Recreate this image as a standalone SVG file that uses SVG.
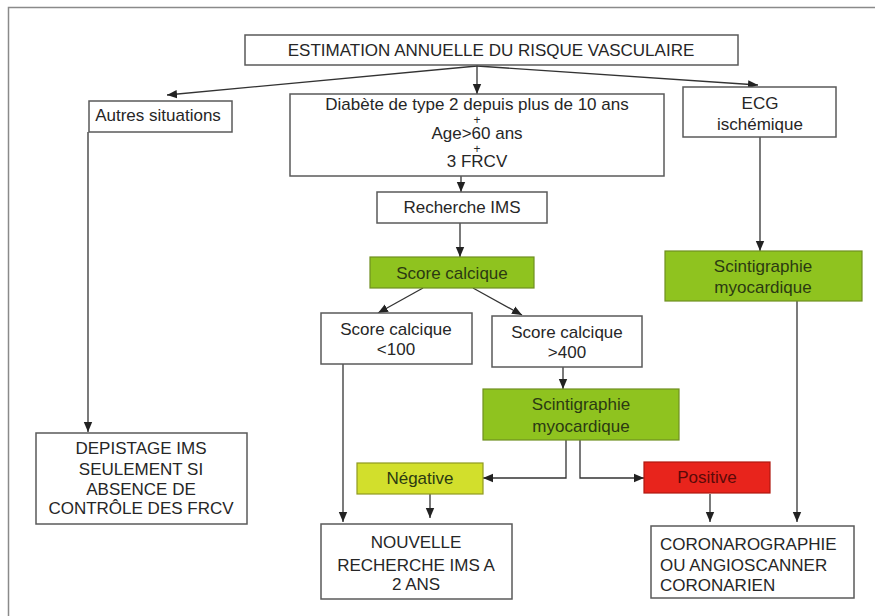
<svg xmlns="http://www.w3.org/2000/svg" width="875" height="616" viewBox="0 0 875 616">
<defs>
<style>
.box{fill:#fff;stroke:#5a5a5a;stroke-width:1.5}
.green{fill:#8fc31f;stroke:#6f8f20;stroke-width:1.2}
.neg{fill:#d2df2c;stroke:#8f9a20;stroke-width:1.2}
.pos{fill:#e8241c;stroke:#b01810;stroke-width:1.2}
text{font-family:"Liberation Sans",Arial,sans-serif;font-size:17px;fill:#262626;text-anchor:middle}
.dk{fill:#2b3a12}
.pt{fill:#5a0a08}
.plus{font-size:12px}
.lt{text-anchor:start}
.c{fill:none;stroke:#333;stroke-width:1.3}
</style>
<marker id="ah" markerUnits="userSpaceOnUse" markerWidth="10" markerHeight="10" viewBox="0 0 10 10" refX="10" refY="5" orient="auto">
<path d="M0,0.8 L10,5 L0,9.2 z" fill="#222"/>
</marker>
</defs>
<rect width="875" height="616" fill="#fff"/>
<path d="M8.5,616 V7.5 H875" fill="none" stroke="#8a8a8a" stroke-width="1.5"/>

<g id="connectors">
<path class="c" d="M477,66 L167,95" marker-end="url(#ah)"/>
<path class="c" d="M477,65 V94" marker-end="url(#ah)"/>
<path class="c" d="M477,66 L758,85" marker-end="url(#ah)"/>
<path class="c" d="M461,176 V192" marker-end="url(#ah)"/>
<path class="c" d="M460,223 V257" marker-end="url(#ah)"/>
<path class="c" d="M423,288 L378,313" marker-end="url(#ah)"/>
<path class="c" d="M473,288 L522,315" marker-end="url(#ah)"/>
<path class="c" d="M563,367 V389" marker-end="url(#ah)"/>
<path class="c" d="M88,132 V432" marker-end="url(#ah)"/>
<path class="c" d="M343,364 V522" marker-end="url(#ah)"/>
<path class="c" d="M566,440 V478 H483" marker-end="url(#ah)"/>
<path class="c" d="M580,440 V478 H644" marker-end="url(#ah)"/>
<path class="c" d="M430,494 V518" marker-end="url(#ah)"/>
<path class="c" d="M710,494 V522" marker-end="url(#ah)"/>
<path class="c" d="M760,137 V251" marker-end="url(#ah)"/>
<path class="c" d="M797,301 V522" marker-end="url(#ah)"/>
</g>

<g id="estimation">
<rect class="box" x="245" y="35" width="493" height="30"/>
<text x="491" y="56">ESTIMATION ANNUELLE DU RISQUE VASCULAIRE</text>
</g>
<g id="autres">
<rect class="box" x="89" y="101" width="143" height="31"/>
<text x="158" y="121">Autres situations</text>
</g>
<g id="diabete">
<rect class="box" x="290" y="94" width="374" height="82"/>
<text x="477" y="110">Diabète de type 2 depuis plus de 10 ans</text>
<text class="plus" x="477" y="124">+</text>
<text x="477" y="139">Age&gt;60 ans</text>
<text class="plus" x="477" y="153">+</text>
<text x="477" y="167">3 FRCV</text>
</g>
<g id="ecg">
<rect class="box" x="683" y="87" width="153" height="50"/>
<text x="760" y="109">ECG</text>
<text x="760" y="130">ischémique</text>
</g>
<g id="recherche">
<rect class="box" x="377" y="192" width="170" height="31"/>
<text x="462" y="213">Recherche IMS</text>
</g>
<g id="score">
<rect class="green" x="370" y="257" width="164" height="31"/>
<text class="dk" x="452" y="279">Score calcique</text>
</g>
<g id="scinti-right">
<rect class="green" x="665" y="251" width="197" height="50"/>
<text class="dk" x="763" y="272">Scintigraphie</text>
<text class="dk" x="763" y="293">myocardique</text>
</g>
<g id="score-low">
<rect class="box" x="321" y="313" width="151" height="51"/>
<text x="396" y="335">Score calcique</text>
<text x="396" y="355">&lt;100</text>
</g>
<g id="score-high">
<rect class="box" x="492" y="316" width="150" height="51"/>
<text x="567" y="338">Score calcique</text>
<text x="567" y="358">&gt;400</text>
</g>
<g id="scinti-mid">
<rect class="green" x="483" y="389" width="196" height="51"/>
<text class="dk" x="581" y="410">Scintigraphie</text>
<text class="dk" x="581" y="432">myocardique</text>
</g>
<g id="negative">
<rect class="neg" x="357" y="463" width="126" height="31"/>
<text class="dk" x="420" y="484">Négative</text>
</g>
<g id="positive">
<rect class="pos" x="644" y="462" width="126" height="31"/>
<text class="pt" x="707" y="483">Positive</text>
</g>
<g id="depistage">
<rect class="box" x="36" y="433" width="211" height="91"/>
<text x="141" y="454">DEPISTAGE IMS</text>
<text x="141" y="475">SEULEMENT SI</text>
<text x="141" y="495">ABSENCE DE</text>
<text x="141" y="514">CONTRÔLE DES FRCV</text>
</g>
<g id="nouvelle">
<rect class="box" x="321" y="524" width="191" height="75"/>
<text x="416" y="548">NOUVELLE</text>
<text x="416" y="571">RECHERCHE IMS A</text>
<text x="416" y="590">2 ANS</text>
</g>
<g id="corono">
<rect class="box" x="651" y="526" width="203" height="72"/>
<text class="lt" x="660" y="550">CORONAROGRAPHIE</text>
<text class="lt" x="660" y="571">OU ANGIOSCANNER</text>
<text class="lt" x="660" y="591">CORONARIEN</text>
</g>
</svg>
